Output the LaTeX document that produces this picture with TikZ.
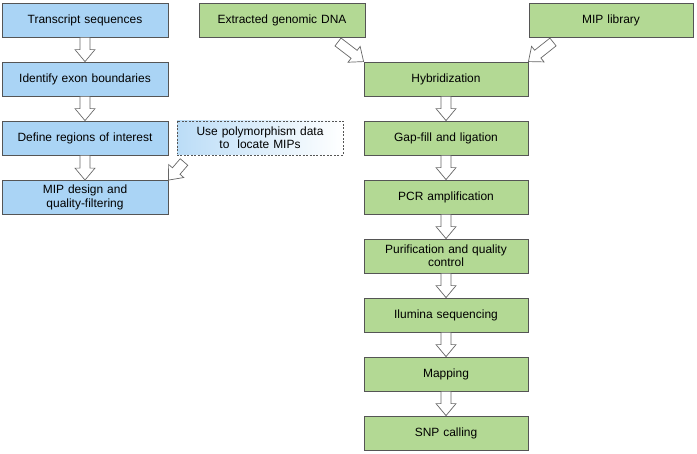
\documentclass[tikz,border=0pt]{standalone}
\usepackage{fontspec}
\setmainfont{Liberation Sans}
\usetikzlibrary{calc}
\definecolor{bluefill}{HTML}{AAD4F5}
\definecolor{greenfill}{HTML}{B3D994}
\definecolor{edgegray}{HTML}{555555}
\definecolor{arrowgray}{HTML}{666666}
\tikzset{
  box/.style={draw=edgegray, line width=0.8pt, minimum height=34bp, inner sep=2pt,
    align=center, font=\fontsize{12}{13.5}\selectfont},
  bluebox/.style={box, fill=bluefill, minimum width=166bp, text width=150bp},
  greenbox/.style={box, fill=greenfill, minimum width=164bp, text width=150bp},
  dashbox/.style={box, draw=edgegray, dashed, dash pattern=on 2pt off 1.5pt,
    left color=bluefill!80, right color=white, minimum width=166bp, text width=150bp},
  blockarrow/.style={draw=arrowgray, fill=white, line width=0.7pt, line join=miter},
}
\newcommand{\blockarr}[2]{%
  \path[blockarrow] let \p1=#1, \p2=#2,
    \n1={atan2(\y2-\y1,\x2-\x1)}, \n2={veclen(\x2-\x1,\y2-\y1)} in
    [shift={(\p1)}, rotate=\n1]
    (0pt,-5pt) -- ({\n2*1pt-12pt},-5pt) -- ({\n2*1pt-12pt},-10pt) -- ({\n2*1pt},0pt)
    -- ({\n2*1pt-12pt},10pt) -- ({\n2*1pt-12pt},5pt) -- (0pt,5pt) -- cycle;}
\begin{document}
\begin{tikzpicture}[x=1bp,y=-1bp]
\useasboundingbox (0,0) rectangle (697,454);
% left column
\node[bluebox] (ts) at (85,20) {Transcript sequences};
\node[bluebox] (ie) at (85,79) {Identify exon boundaries};
\node[bluebox] (dr) at (85,138) {Define regions of interest};
\node[bluebox] (md) at (85,197.5) {MIP design and\\quality-filtering};
\node[dashbox] (up) at (260,138) {Use polymorphism data\\to\ \ locate MIPs};
% right
\node[greenbox, minimum width=166bp] (dna) at (282,20) {Extracted genomic DNA};
\node[greenbox] (lib) at (611,20) {MIP library};
\node[greenbox] (hy) at (446,79) {Hybridization};
\node[greenbox] (gf) at (446,138) {Gap-fill and ligation};
\node[greenbox] (pcr) at (446,197) {PCR amplification};
\node[greenbox] (pq) at (446,256) {Purification and quality\\control};
\node[greenbox] (il) at (446,315) {Ilumina sequencing};
\node[greenbox] (mp) at (446,374) {Mapping};
\node[greenbox] (snp) at (446,433) {SNP calling};
% arrow tails
\coordinate (dnat) at (338,42);
\coordinate (libt) at (553,42);
\coordinate (upt) at (184,162);
% arrows
\blockarr{(ts.south)}{(ie.north)}
\blockarr{(ie.south)}{(dr.north)}
\blockarr{(dr.south)}{(md.north)}
\blockarr{(upt)}{(md.north east)}
\blockarr{(dnat)}{(hy.north west)}
\blockarr{(libt)}{(hy.north east)}
\blockarr{(hy.south)}{(gf.north)}
\blockarr{(gf.south)}{(pcr.north)}
\blockarr{(pcr.south)}{(pq.north)}
\blockarr{(pq.south)}{(il.north)}
\blockarr{(il.south)}{(mp.north)}
\blockarr{(mp.south)}{(snp.north)}
\end{tikzpicture}
\end{document}
